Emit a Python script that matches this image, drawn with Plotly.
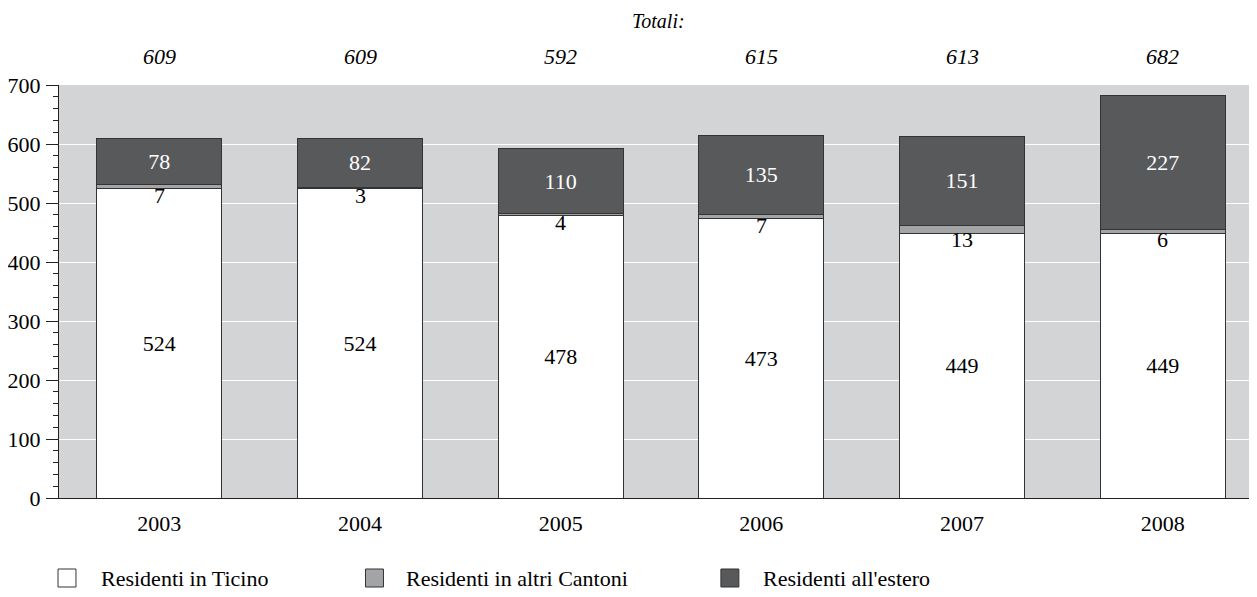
import plotly.graph_objects as go

years = ["2003", "2004", "2005", "2006", "2007", "2008"]
ticino = [524, 524, 478, 473, 449, 449]
altri = [7, 3, 4, 7, 13, 6]
estero = [78, 82, 110, 135, 151, 227]
series_names = ["Residenti in Ticino", "Residenti in altri Cantoni", "Residenti all'estero"]
totals = [t + a + e for t, a, e in zip(ticino, altri, estero)]

FONT = "Liberation Serif"
FS = 22
OFF = 8  # page body margin
W, H = 1257 - OFF, 597 - OFF
# plot area in page pixels: left 57, right 1257, top 85, bottom 498
L, R, T, B = 57 - OFF, 0, 85 - OFF, 597 - 498
pw, ph = W - L - R, H - T - B

def px_x(p):  # page pixel -> paper
    return (p - OFF - L) / pw

def px_y(p):
    return (H - B - (p - OFF)) / ph

line = dict(color="#333333", width=1)
fig = go.Figure()
fig.add_trace(go.Bar(x=years, y=ticino, name=series_names[0],
                     marker=dict(color="white", line=line),
                     text=[str(v) for v in ticino], textposition="inside",
                     insidetextanchor="middle",
                     textfont=dict(family=FONT, size=FS, color="black")))
fig.add_trace(go.Bar(x=years, y=altri, name=series_names[1],
                     marker=dict(color="#a3a4a6", line=line)))
fig.add_trace(go.Bar(x=years, y=estero, name=series_names[2],
                     marker=dict(color="#58595b", line=line),
                     text=[str(v) for v in estero], textposition="inside",
                     insidetextanchor="middle",
                     textfont=dict(family=FONT, size=FS, color="white")))

ann = []
for i, (t, a) in enumerate(zip(ticino, altri)):
    ann.append(dict(x=i, y=t, xref="x", yref="y", text=str(a), showarrow=False,
                    yanchor="top", yshift=8,
                    font=dict(family=FONT, size=FS, color="black")))
for i, tot in enumerate(totals):
    ann.append(dict(x=i, y=px_y(57), xref="x", yref="paper", text=f"<i>{tot}</i>",
                    showarrow=False, yanchor="middle",
                    font=dict(family=FONT, size=FS, color="black")))
ann.append(dict(x=0.5, y=px_y(21), xref="paper", yref="paper", text="<i>Totali:</i>",
                showarrow=False, yanchor="middle",
                font=dict(family=FONT, size=20, color="black")))

shapes = []
leg_sq_x = [56, 364, 720]
leg_txt_x = [97, 403, 760]
leg_colors = ["white", "#a3a4a6", "#58595b"]
leg_y = 578
for sx, tx, c, n in zip(leg_sq_x, leg_txt_x, leg_colors, series_names):
    shapes.append(dict(type="rect", xref="paper", yref="paper",
                       x0=px_x(sx), x1=px_x(sx + 18), y0=px_y(leg_y - 9), y1=px_y(leg_y + 9),
                       fillcolor=c, line=dict(color="#333333", width=1)))
    ann.append(dict(x=px_x(tx), y=px_y(leg_y), xref="paper", yref="paper", text=n,
                    showarrow=False, xanchor="left", yanchor="middle",
                    font=dict(family=FONT, size=FS, color="black")))

fig.update_layout(
    width=W, height=H,
    margin=dict(l=L, r=R, t=T, b=B),
    barmode="stack", bargap=0.378,
    showlegend=False,
    paper_bgcolor="white", plot_bgcolor="#d3d4d6",
    font=dict(family=FONT, size=FS, color="black"),
    annotations=ann, shapes=shapes,
    uniformtext=dict(mode="show", minsize=10),
)
fig.update_xaxes(type="category", range=[-0.5, len(years) - 0.53], showline=True,
                 linecolor="#222", linewidth=1, ticks="",
                 showgrid=False, tickfont=dict(family=FONT, size=FS), ticklabelstandoff=6)
fig.update_yaxes(range=[0, 700], dtick=100, showline=True, linecolor="#222", linewidth=1,
                 ticks="outside", ticklen=12, tickcolor="#222", tickwidth=1,
                 gridcolor="white", gridwidth=1, zeroline=False,
                 tickfont=dict(family=FONT, size=FS), ticklabelstandoff=1,
                 minor=dict(dtick=20, ticks="outside", ticklen=5, tickcolor="#222",
                            showgrid=False))
fig.write_html("out.html")
